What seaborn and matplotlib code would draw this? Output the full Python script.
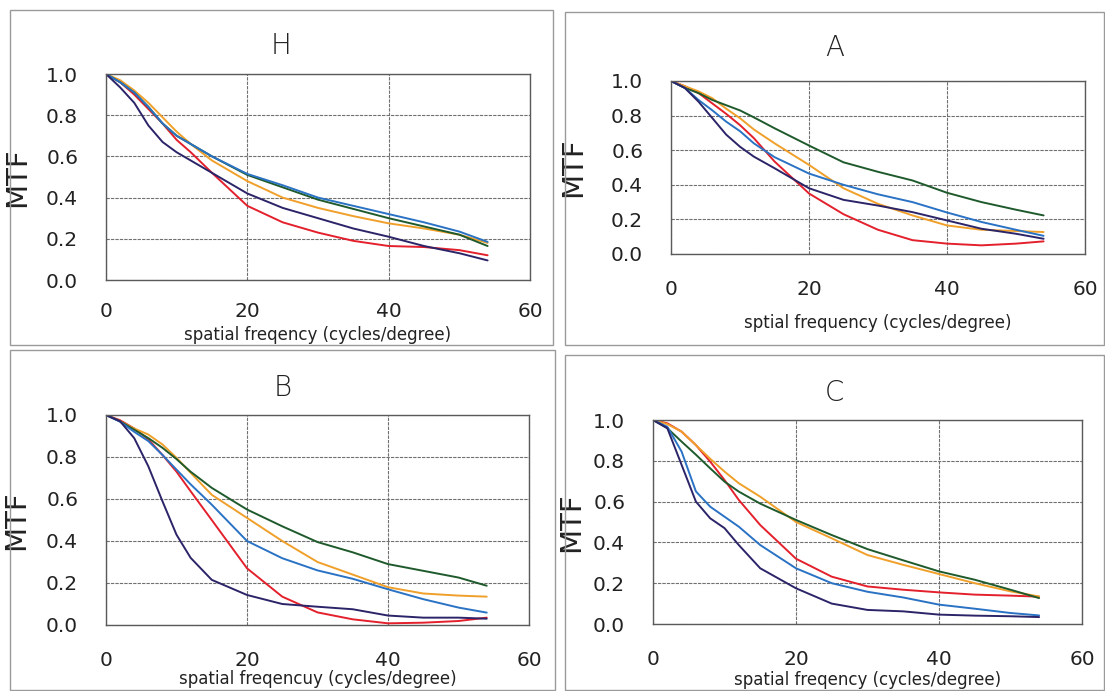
import matplotlib
matplotlib.use("Agg")
import matplotlib.pyplot as plt
from matplotlib.patches import Rectangle
from matplotlib.ticker import FormatStrFormatter
import numpy as np
import pandas as pd
import seaborn as sns

# ---------------- data ----------------
freq = [0, 2, 4, 6, 8, 10, 12, 15, 20, 25, 30, 35, 40, 45, 50, 54]

series_names = ["red", "orange", "green", "blue", "navy"]
series_colors = ["#e3202c", "#f0a02a", "#1f5a2c", "#2a72c4", "#2b2468"]

panel_titles = ["H", "A", "B", "C"]
xlabels = ["spatial freqency (cycles/degree)",
           "sptial frequency (cycles/degree)",
           "spatial freqencuy (cycles/degree)",
           "spatial freqency (cycles/degree)"]
ylabel = "MTF"
xticks = [0, 20, 40, 60]
yticks = [0.0, 0.2, 0.4, 0.6, 0.8, 1.0]

H_red    = [1.0, 0.96, 0.90, 0.83, 0.76, 0.68, 0.62, 0.52, 0.36, 0.28, 0.23, 0.19, 0.165, 0.16, 0.145, 0.12]
H_orange = [1.0, 0.97, 0.92, 0.86, 0.79, 0.72, 0.66, 0.58, 0.48, 0.40, 0.35, 0.31, 0.275, 0.25, 0.22, 0.18]
H_green  = [1.0, 0.96, 0.91, 0.84, 0.76, 0.70, 0.66, 0.60, 0.51, 0.45, 0.39, 0.345, 0.30, 0.26, 0.22, 0.165]
H_blue   = [1.0, 0.96, 0.91, 0.84, 0.76, 0.70, 0.66, 0.60, 0.515, 0.46, 0.40, 0.36, 0.32, 0.28, 0.235, 0.185]
H_navy   = [1.0, 0.935, 0.86, 0.75, 0.67, 0.62, 0.58, 0.52, 0.42, 0.35, 0.30, 0.25, 0.21, 0.165, 0.13, 0.095]

A_red    = [1.0, 0.97, 0.93, 0.87, 0.81, 0.745, 0.67, 0.535, 0.35, 0.23, 0.14, 0.08, 0.06, 0.05, 0.06, 0.073]
A_orange = [1.0, 0.97, 0.94, 0.90, 0.84, 0.785, 0.72, 0.64, 0.515, 0.38, 0.29, 0.223, 0.165, 0.14, 0.133, 0.127]
A_green  = [1.0, 0.96, 0.93, 0.89, 0.86, 0.83, 0.79, 0.727, 0.627, 0.53, 0.475, 0.425, 0.354, 0.30, 0.256, 0.223]
A_blue   = [1.0, 0.96, 0.89, 0.83, 0.765, 0.71, 0.64, 0.56, 0.465, 0.40, 0.345, 0.30, 0.24, 0.185, 0.14, 0.105]
A_navy   = [1.0, 0.96, 0.88, 0.785, 0.69, 0.62, 0.563, 0.496, 0.38, 0.313, 0.28, 0.242, 0.194, 0.146, 0.117, 0.088]

B_red    = [1.0, 0.975, 0.936, 0.884, 0.81, 0.73, 0.637, 0.50, 0.27, 0.135, 0.06, 0.027, 0.008, 0.011, 0.019, 0.035]
B_orange = [1.0, 0.97, 0.936, 0.907, 0.86, 0.796, 0.725, 0.62, 0.51, 0.40, 0.30, 0.24, 0.18, 0.15, 0.14, 0.135]
B_green  = [1.0, 0.97, 0.93, 0.89, 0.844, 0.79, 0.73, 0.653, 0.55, 0.47, 0.395, 0.346, 0.29, 0.258, 0.226, 0.187]
B_blue   = [1.0, 0.968, 0.92, 0.876, 0.81, 0.74, 0.67, 0.573, 0.40, 0.318, 0.26, 0.22, 0.17, 0.123, 0.083, 0.059]
B_navy   = [1.0, 0.97, 0.89, 0.756, 0.59, 0.43, 0.32, 0.215, 0.143, 0.10, 0.087, 0.075, 0.045, 0.035, 0.035, 0.03]

C_red    = [1.0, 0.984, 0.943, 0.877, 0.796, 0.706, 0.608, 0.485, 0.32, 0.232, 0.184, 0.168, 0.155, 0.144, 0.139, 0.134]
C_orange = [1.0, 0.98, 0.943, 0.877, 0.81, 0.747, 0.69, 0.624, 0.50, 0.42, 0.338, 0.29, 0.245, 0.20, 0.16, 0.135]
C_green  = [1.0, 0.96, 0.894, 0.83, 0.763, 0.698, 0.649, 0.59, 0.51, 0.436, 0.367, 0.312, 0.258, 0.217, 0.168, 0.127]
C_blue   = [1.0, 0.967, 0.845, 0.65, 0.575, 0.526, 0.477, 0.387, 0.273, 0.20, 0.158, 0.13, 0.095, 0.075, 0.054, 0.042]
C_navy   = [1.0, 0.96, 0.78, 0.60, 0.518, 0.47, 0.387, 0.273, 0.175, 0.10, 0.069, 0.062, 0.046, 0.041, 0.038, 0.034]

panel_data = {
    "H": [H_red, H_orange, H_green, H_blue, H_navy],
    "A": [A_red, A_orange, A_green, A_blue, A_navy],
    "B": [B_red, B_orange, B_green, B_blue, B_navy],
    "C": [C_red, C_orange, C_green, C_blue, C_navy],
}

# ---------------- style ----------------
sns.set_theme(style="white")
plt.rcParams["font.family"] = ["DejaVu Sans"]

W, Hpx = 1105, 691
fig = plt.figure(figsize=(W / 100, Hpx / 100), dpi=100)
fig.patch.set_facecolor("white")

def fx(px):
    return px / W

def fy(py):
    return 1 - py / Hpx

# panel outer boxes (pixel: x0, y0, x1, y1)
boxes = [(10, 10, 553, 345), (565, 12, 1104, 345), (10, 350, 555, 690), (565, 355, 1104, 690)]
# axes boxes (pixel: left, top, right, bottom)
axes_px = [(106, 74, 530, 280), (671, 81, 1085, 254), (106, 415, 529, 625), (653, 420, 1082, 624)]
ylabel_x = [-0.177, -0.203, -0.18, -0.158]
xlabel_px_y = [335, 323, 679, 680]
xtick_pad = [16, 19, 19, 19]

palette = dict(zip(series_names, series_colors))

for i, name in enumerate(panel_titles):
    x0, y0, x1, y1 = boxes[i]
    fig.add_artist(Rectangle((fx(x0), fy(y1)), fx(x1) - fx(x0), fy(y0) - fy(y1),
                             transform=fig.transFigure, fill=False,
                             edgecolor="#9a9a9a", linewidth=1.0))
    l, t, r, b = axes_px[i]
    ax = fig.add_axes([fx(l), fy(b), fx(r) - fx(l), fy(t) - fy(b)])

    rows = []
    for sname, vals in zip(series_names, panel_data[name]):
        for xv, yv in zip(freq, vals):
            rows.append({"freq": xv, "MTF": yv, "series": sname})
    df = pd.DataFrame(rows)
    sns.lineplot(data=df, x="freq", y="MTF", hue="series", palette=palette,
                 hue_order=series_names, ax=ax, legend=False, linewidth=1.4,
                 estimator=None, sort=True)

    ax.set_xlim(0, 60)
    ax.set_ylim(0, 1.0)
    ax.set_xticks(xticks)
    ax.set_yticks(yticks)
    ax.yaxis.set_major_formatter(FormatStrFormatter("%.1f"))
    ax.grid(True, color="#707070", linewidth=0.8, linestyle=(0, (3, 1)))
    for sp in ax.spines.values():
        sp.set_color("#5a5a5a")
        sp.set_linewidth(1.0)
    ax.tick_params(axis="both", length=0, labelsize=14.5, colors="#222222")
    ax.tick_params(axis="y", pad=20)
    ax.tick_params(axis="x", pad=xtick_pad[i])

    ax.set_ylabel(ylabel, fontsize=21, color="#222222")
    ax.yaxis.set_label_coords(ylabel_x[i], 0.5)
    ax.set_xlabel(xlabels[i], fontsize=12, color="#222222", va="center")
    ax.xaxis.set_label_coords(0.5, -(xlabel_px_y[i] - b) / (b - t))

    # panel title centred on panel box
    fig.text(fx((x0 + x1) / 2), fy(y0 + 36 if i < 2 else y0 + 38), name,
             ha="center", va="center", fontsize=20, color="#222222",
             fontweight="light")

fig.savefig("out.png", dpi=100, facecolor="white")
